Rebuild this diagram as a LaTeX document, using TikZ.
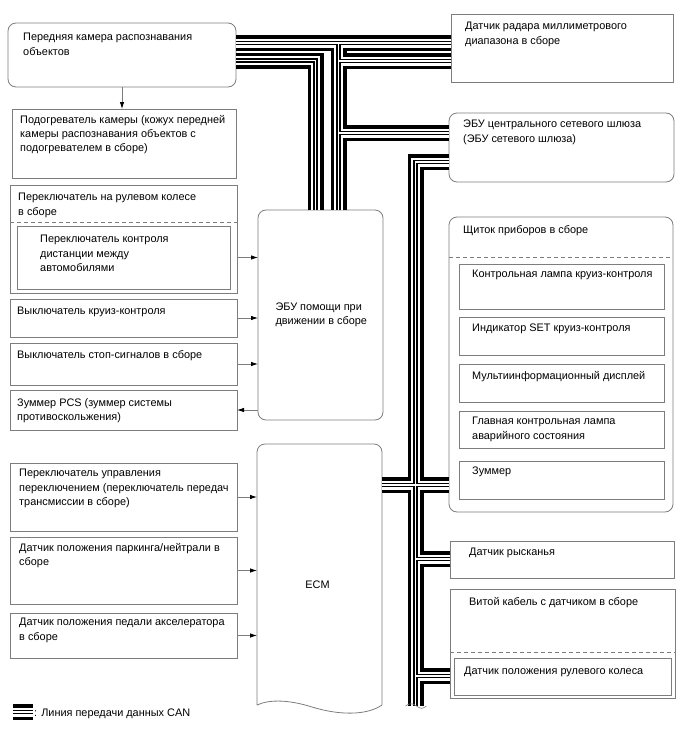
\documentclass[tikz,border=0pt]{standalone}
\usepackage{fontspec}
\setmainfont{Liberation Sans}
\usetikzlibrary{arrows.meta}
\definecolor{framegray}{RGB}{125,125,125}

\begin{document}
\begin{tikzpicture}[
    x=1pt, y=-1pt,
    >={Latex[length=7pt,width=4.5pt,color=black]},
    every node/.style={font=\fontsize{10.9}{14.3}\selectfont},
    box/.style={draw=framegray, line width=0.8pt, anchor=north west, inner sep=0pt, outer sep=0pt},
    rbox/.style={box, rounded corners=8pt},
    txt/.style={anchor=north west, inner sep=0pt, align=left},
    sig/.style={->, draw=framegray, line width=0.8pt},
    sep/.style={draw=framegray, line width=0.8pt, dash pattern=on 4pt off 3pt}
]
    \useasboundingbox (0,0) rectangle (688,755);

    % --- LEFT COLUMN ---
    \node[rbox, minimum width=228, minimum height=64] (cam) at (8,23) {};
    \node[box, minimum width=224, minimum height=69] (heat) at (12,109) {};
    \node[box, minimum width=227, minimum height=108] (sw) at (10,185) {};
    \node[box, minimum width=213, minimum height=63] (sw_in) at (17,226) {};
    \node[box, minimum width=227, minimum height=38] (cruise) at (10,299) {};
    \node[box, minimum width=227, minimum height=42] (stop) at (10,343) {};
    \node[box, minimum width=227, minimum height=40] (pcs) at (10,390) {};
    \node[box, minimum width=227, minimum height=68] (shift) at (10,463) {};
    \node[box, minimum width=227, minimum height=67] (park) at (10,537) {};
    \node[box, minimum width=227, minimum height=45] (accel) at (10,613) {};

    \draw[sep] ([shift={(0,37)}]sw.north west) -- ([shift={(0,37)}]sw.north east);

    \node[txt] (cam_t) at ([shift={(15,10)}]cam.north west) {Передняя камера распознавания\\объектов};
    \node[txt] (heat_t) at ([shift={(8,6)}]heat.north west) {Подогреватель камеры (кожух передней\\камеры распознавания объектов с\\подогревателем в сборе)};
    \node[txt] (sw_t) at ([shift={(8,8)}]sw.north west) {Переключатель на рулевом колесе\\в сборе};
    \node[txt] (sw_in_t) at ([shift={(23,9)}]sw_in.north west) {Переключатель контроля\\дистанции между\\автомобилями};
    \node[txt] (cruise_t) at ([shift={(7,8)}]cruise.north west) {Выключатель круиз-контроля};
    \node[txt] (stop_t) at ([shift={(7,7)}]stop.north west) {Выключатель стоп-сигналов в сборе};
    \node[txt] (pcs_t) at ([shift={(7,8)}]pcs.north west) {Зуммер PCS (зуммер системы\\противоскольжения)};
    \node[txt] (shift_t) at ([shift={(9,6)}]shift.north west) {Переключатель управления\\переключением (переключатель передач\\трансмиссии в сборе)};
    \node[txt] (park_t) at ([shift={(9,6)}]park.north west) {Датчик положения паркинга/нейтрали в\\сборе};
    \node[txt] (accel_t) at ([shift={(9,5)}]accel.north west) {Датчик положения педали акселератора\\в сборе};

    % --- MIDDLE: ECUs ---
    \node[rbox, minimum width=125, minimum height=210] (ecu) at (258,210) {};
    \node[anchor=west, align=left] (ecu_t) at ([xshift=14pt]ecu.west) {ЭБУ помощи при\\движении в сборе};

    \node[box, draw=none, minimum width=125, minimum height=261] (ecm) at (257,444) {};
    \draw[framegray, line width=0.8pt, rounded corners=8pt] (ecm.south west) -- (ecm.north west) -- (ecm.north east) -- (ecm.south east);
    \draw[framegray, line width=0.8pt] (ecm.south east) .. controls (366,716) and (338,715) .. (312,707) .. controls (290,700) and (270,699) .. (ecm.south west);
    \node (ecm_t) at ([shift={(-2,10)}]ecm.center) {ECM};

    % --- RIGHT COLUMN ---
    \node[box, minimum width=222, minimum height=68] (radar) at (451,14) {};
    \node[rbox, minimum width=225, minimum height=69] (gw) at (449,113) {};
    \node[rbox, minimum width=224, minimum height=295] (meter) at (449,217) {};
    \node[box, minimum width=205, minimum height=45] (m1) at (459,264) {};
    \node[box, minimum width=205, minimum height=38] (m2) at (459,317) {};
    \node[box, minimum width=205, minimum height=38] (m3) at (459,364) {};
    \node[box, minimum width=205, minimum height=37] (m4) at (459,411) {};
    \node[box, minimum width=205, minimum height=38] (m5) at (459,461) {};
    \node[box, minimum width=224, minimum height=37] (yaw) at (450,541) {};
    \node[box, minimum width=225, minimum height=109] (spiral) at (450,589) {};
    \node[box, minimum width=217, minimum height=37] (sa) at (454,658) {};

    \draw[sep] ([shift={(0,40)}]meter.north west) -- ([shift={(0,40)}]meter.north east);
    \draw[sep] ([shift={(0,63)}]spiral.north west) -- ([shift={(0,63)}]spiral.north east);

    \node[txt] (radar_t) at ([shift={(14,8)}]radar.north west) {Датчик радара миллиметрового\\диапазона в сборе};
    \node[txt] (gw_t) at ([shift={(14,7)}]gw.north west) {ЭБУ центрального сетевого шлюза\\(ЭБУ сетевого шлюза)};
    \node[txt] (meter_t) at ([shift={(14,8)}]meter.north west) {Щиток приборов в сборе};
    \node[txt] (m1_t) at ([shift={(13,6)}]m1.north west) {Контрольная лампа круиз-контроля};
    \node[txt] (m2_t) at ([shift={(13,7)}]m2.north west) {Индикатор SET круиз-контроля};
    \node[txt] (m3_t) at ([shift={(13,7)}]m3.north west) {Мультиинформационный дисплей};
    \node[txt] (m4_t) at ([shift={(13,6)}]m4.north west) {Главная контрольная лампа\\аварийного состояния};
    \node[txt] (m5_t) at ([shift={(13,6)}]m5.north west) {Зуммер};
    \node[txt] (yaw_t) at ([shift={(19,7)}]yaw.north west) {Датчик рысканья};
    \node[txt] (spiral_t) at ([shift={(19,8)}]spiral.north west) {Витой кабель с датчиком в сборе};
    \node[txt] (sa_t) at ([shift={(10,9)}]sa.north west) {Датчик положения рулевого колеса};

    % --- SIGNAL ARROWS ---
    \draw[sig] (cam.south) -- (cam.south |- heat.north);
    \draw[sig] (sw.east |- sw_in.east) -- (ecu.west |- sw_in.east);
    \draw[sig] (cruise.east) -- (cruise.east -| ecu.west);
    \draw[sig] (stop.east) -- (stop.east -| ecu.west);
    \draw[sig] (ecu.west |- pcs.east) -- (pcs.east);
    \draw[sig] (shift.east) -- (shift.east -| ecm.west);
    \draw[sig] (park.east) -- (park.east -| ecm.west);
    \draw[sig] (accel.east) -- (accel.east -| ecm.west);

    % --- CAN LINES ---
    \coordinate (T1_K) at (338.5,43);   % left trunk, top
    \coordinate (B_K) at (315.5,60.5);  % camera bus knee
    \coordinate (C_K) at (338.5,61);    % second radar bus
    \coordinate (G_K) at (338.5,133);   % gateway branch
    \coordinate (T2_K) at (415.5,162);  % right trunk knee
    \coordinate (T2_E) at (415.5,706);  % right trunk cut
    \coordinate (E_K) at (415.5,485);   % ECM / meter cross
    \coordinate (Y_K) at (415.5,559);   % yaw branch
    \coordinate (S_K) at (415.5,676);   % steering sensor branch
    \coordinate (L_K) at (13,712);      % legend

    \foreach \w/\c in {16/black, 9/white, 4.4/black, 1.8/white} {
        \draw[line width=\w pt, draw=\c] (cam.east |- T1_K) -- (radar.west |- T1_K);
        \draw[line width=\w pt, draw=\c] (cam.east |- B_K) -- (B_K) -- (B_K |- ecu.north);
        \draw[line width=\w pt, draw=\c] (T1_K) -- (T1_K |- ecu.north);
        \draw[line width=\w pt, draw=\c] (radar.west |- C_K) -- (C_K);
        \draw[line width=\w pt, draw=\c] (G_K) -- (G_K -| gw.west);
        \draw[line width=\w pt, draw=\c] (gw.west |- T2_K) -- (T2_K) -- (T2_E);
        \draw[line width=\w pt, draw=\c] (E_K -| ecm.east) -- (E_K -| meter.west);
        \draw[line width=\w pt, draw=\c] (Y_K) -- (Y_K -| yaw.west);
        \draw[line width=\w pt, draw=\c] (S_K) -- (S_K -| spiral.west);
        \draw[line width=\w pt, draw=\c] (L_K) -- ++(20,0);
    }
    \draw[framegray, line width=0.6pt] ([xshift=-10pt]T2_E) .. controls ++(4,-3) and ++(-4,-3) .. ([xshift=1pt]T2_E) .. controls ++(4,3) and ++(-4,3) .. ([xshift=11pt]T2_E);

    \node[anchor=base west, inner sep=0pt] (leg_t) at (34,716) {: Линия передачи данных CAN};

\end{tikzpicture}
\end{document}
